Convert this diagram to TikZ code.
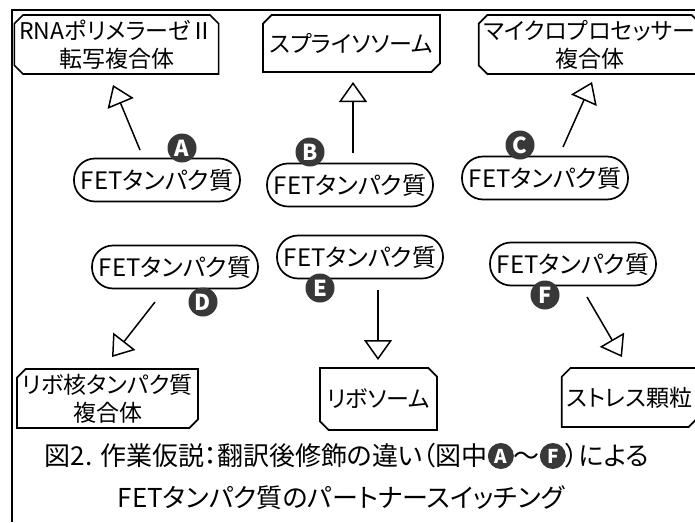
\documentclass[tikz,border=0pt]{standalone}
\usepackage{fontspec}
\setmainfont{Noto Sans CJK JP}[RawFeature=+palt]
\usetikzlibrary{arrows.meta,shapes.misc}
\definecolor{badgegray}{HTML}{383838}
\tikzset{
  partbox/.style={chamfered rectangle, draw, line width=1.7pt, inner sep=0pt,
    chamfered rectangle xsep=5pt, align=center,
    font=\fontsize{23pt}{28pt}\selectfont},
  fetpill/.style={rectangle, draw, line width=1.7pt, rounded corners=21pt,
    minimum width=166pt, minimum height=43pt, inner sep=0pt,
    font=\fontsize{24pt}{28pt}\selectfont},
  badge/.style={shape=circle, fill=badgegray, text=white, inner sep=0pt,
    minimum width=29pt, minimum height=29pt, font=\bfseries\fontsize{22pt}{22pt}\selectfont},
  bind/.style={line width=1.5pt, -{Triangle[open, length=20pt, width=28pt, line width=1.5pt]}},
}
\newcommand\capbadge[1]{\tikz[baseline=-0.36em]\node[badge, minimum width=26pt, minimum height=26pt, font=\bfseries\fontsize{19pt}{19pt}\selectfont](cb){#1};}
\begin{document}
\begin{tikzpicture}[x=1pt, y=-1pt]
\useasboundingbox (0,0) rectangle (695,522);
\fill[white] (0,0) rectangle (695,522);
% frame
\draw[line width=2.7pt] (11,10) -- (695,10);
\draw[line width=2pt] (12,10) -- (12,522);
% partner boxes
\node[partbox, minimum width=201pt, minimum height=59pt,
  chamfered rectangle corners={north west, north east, south west}] (rna) at (116.5,44.5) {RNAポリメラーゼⅡ\\転写複合体};
\node[partbox, minimum width=177pt, minimum height=57pt,
  chamfered rectangle corners={north west, south east}] (spl) at (351.5,43.5) {スプライソソーム};
\node[partbox, minimum width=209pt, minimum height=59pt,
  chamfered rectangle corners={north west, north east, south west}] (mic) at (589.5,44.5) {マイクロプロセッサー\\複合体};
\node[partbox, minimum width=181pt, minimum height=59pt,
  chamfered rectangle corners={north west, south east}] (rnp) at (107.5,398.5) {リボ核タンパク質\\複合体};
\node[partbox, minimum width=117pt, minimum height=62pt,
  chamfered rectangle corners={north east, south west}] (rib) at (378.5,399) {リボソーム};
\node[partbox, minimum width=135pt, minimum height=59pt,
  chamfered rectangle corners={north west, south east}] (sg) at (629.5,397.5) {ストレス顆粒};
% FET pills
\node[fetpill] (pA) at (157,180) {FETタンパク質};
\node[fetpill] (pB) at (350,185) {FETタンパク質};
\node[fetpill] (pC) at (545,178) {FETタンパク質};
\node[fetpill] (pD) at (175,267) {FETタンパク質};
\node[fetpill] (pE) at (360,257) {FETタンパク質};
\node[fetpill] (pF) at (573,264) {FETタンパク質};
% badges
\node[badge] (bA) at (182,148) {A};
\node[badge] (bB) at (310,152) {B};
\node[badge] (bC) at (520,145) {C};
\node[badge] (bD) at (203,302) {D};
\node[badge] (bE) at (320,288) {E};
\node[badge] (bF) at (545,295) {F};
% arrow ends
\coordinate (a1) at (140,150); \coordinate (a2) at (113,85);
\coordinate (b1) at (353,153); \coordinate (b2) at (353,82);
\coordinate (c1) at (563,147); \coordinate (c2) at (592,82);
\coordinate (d1) at (155,302); \coordinate (d2) at (112,357);
\coordinate (e1) at (378,290); \coordinate (e2) at (378,360);
\coordinate (f1) at (587,297); \coordinate (f2) at (622,357);
\draw[bind] (a1) -- (a2);
\draw[bind] (b1) -- (b2);
\draw[bind] (c1) -- (c2);
\draw[bind] (d1) -- (d2);
\draw[bind] (e1) -- (e2);
\draw[bind] (f1) -- (f2);
% caption
\node[font=\fontsize{26pt}{28pt}\selectfont, inner sep=0pt] (cap1) at (347,456)
  {図2. 作業仮説：翻訳後修飾の違い（図中\capbadge{A}～\capbadge{F}）による};
\node[font=\fontsize{26pt}{28pt}\selectfont, inner sep=0pt] (cap2) at (341,498)
  {FETタンパク質のパートナースイッチング};
\end{tikzpicture}
\end{document}
